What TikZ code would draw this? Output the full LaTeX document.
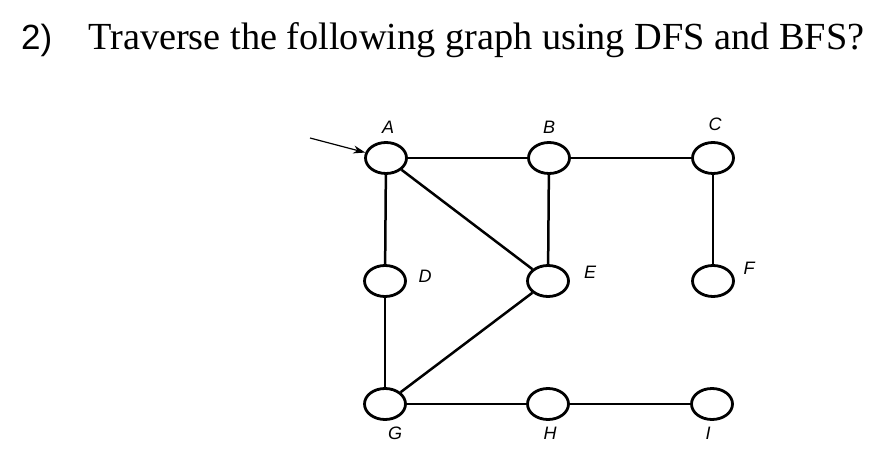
\documentclass[tikz,border=0pt]{standalone}
\usepackage{fontspec}
\setmainfont{Liberation Serif}
\newfontfamily\lblfont{Liberation Sans}
\usetikzlibrary{shapes.geometric,arrows.meta}
\tikzset{
  vertex/.style={draw,ellipse,line width=2.8pt,minimum width=41pt,minimum height=31pt,inner sep=0pt},
  edge/.style={line width=2.5pt},
  vlabel/.style={font=\lblfont\itshape\fontsize{18}{18}\selectfont,inner sep=0pt}
}
\begin{document}
\begin{tikzpicture}[x=1pt,y=-1pt]
\useasboundingbox (0,0) rectangle (894,454);
% Title
\node[anchor=base west,inner sep=0pt,font=\lblfont\fontsize{35}{35}\selectfont] (num) at (21,50) {2)};
\node[anchor=base west,inner sep=0pt,font=\fontsize{38.3}{38}\selectfont] (title) at (88,50) {Traverse the following graph using DFS and BFS?};

% Vertices
\node[vertex] (A) at (386,158) {};
\node[vertex] (B) at (549,158) {};
\node[vertex] (C) at (713,158) {};
\node[vertex] (D) at (385,281) {};
\node[vertex] (E) at (548,281) {};
\node[vertex] (F) at (713,281) {};
\node[vertex] (G) at (385,404) {};
\node[vertex] (H) at (548,404) {};
\node[vertex] (I) at (712,404) {};

% Labels
\node[vlabel] (lA) at (388,127) {A};
\node[vlabel] (lB) at (549,127) {B};
\node[vlabel] (lC) at (715,124) {C};
\node[vlabel] (lD) at (425,276) {D};
\node[vlabel] (lE) at (590,272) {E};
\node[vlabel] (lF) at (749,268) {F};
\node[vlabel] (lG) at (395,433) {G};
\node[vlabel] (lH) at (550,433) {H};
\node[vlabel] (lI) at (708,433) {I};

% Edges
\draw[edge] (A) -- (B);
\draw[edge] (B) -- (C);
\draw[edge] (A) -- (D);
\draw[edge] (D) -- (G);
\draw[edge] (A) -- (E);
\draw[edge] (B) -- (E);
\draw[edge] (C) -- (F);
\draw[edge] (E) -- (G);
\draw[edge] (G) -- (H);
\draw[edge] (H) -- (I);

% Start arrow
\coordinate (start) at (310,138);
\draw[line width=1.2pt,-{Stealth[length=12pt,width=8pt]}] (start) -- (A);
\end{tikzpicture}
\end{document}
